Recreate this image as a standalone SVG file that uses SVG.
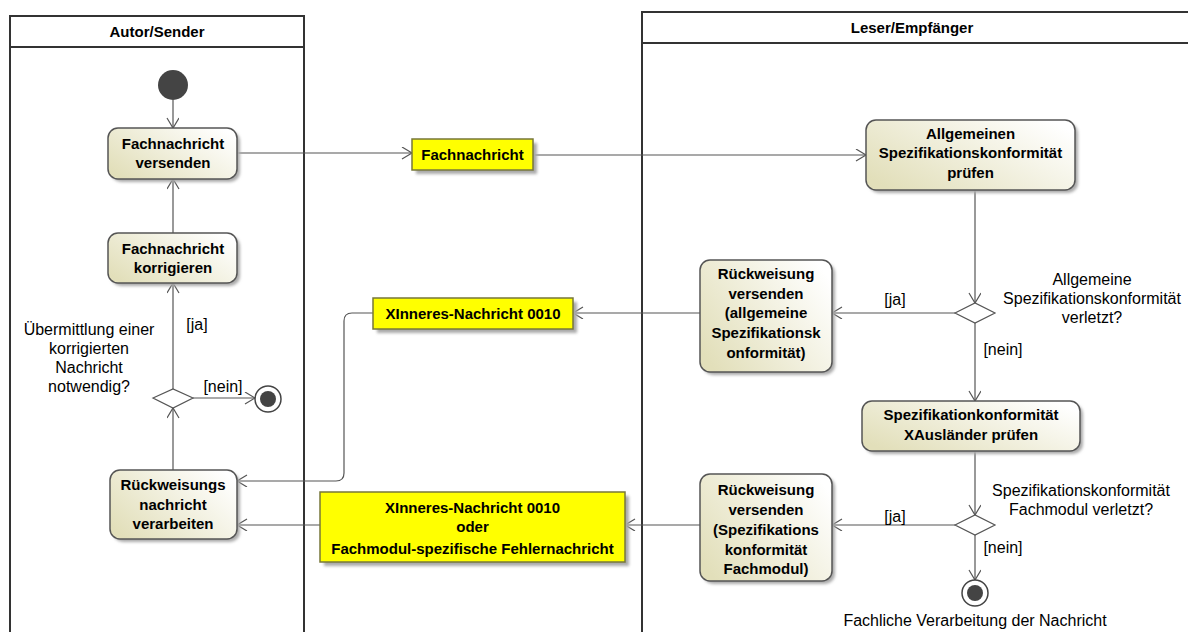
<svg xmlns="http://www.w3.org/2000/svg" width="1188" height="632" viewBox="0 0 1188 632">
<defs>
<linearGradient id="g" x1="0" y1="0.8" x2="1" y2="0.2">
<stop offset="0" stop-color="#E2DFBA"/>
<stop offset="1" stop-color="#FFFFFF"/>
</linearGradient>
<filter id="sh" x="-10%" y="-10%" width="130%" height="130%"><feGaussianBlur stdDeviation="1.5"/></filter>
<marker id="arr" markerUnits="userSpaceOnUse" markerWidth="14" markerHeight="14" refX="11" refY="6" orient="auto">
<path d="M1,0 L11,6 L1,12" fill="none" stroke="#555" stroke-width="1.2"/>
</marker>
</defs>
<style>
.lane{fill:none;stroke:#333;stroke-width:2}
.lt{font-family:"Liberation Sans",Arial,sans-serif;font-size:15px;font-weight:bold;fill:#000;text-anchor:middle}
.act{fill:url(#g);stroke:#555;stroke-width:1.5}
.obj{fill:#FFFF00;stroke:#77773a;stroke-width:1.5}
.shd{fill:#aaa;filter:url(#sh)}
.b{font-family:"Liberation Sans",Arial,sans-serif;font-size:15px;font-weight:bold;fill:#000;text-anchor:middle}
.n{font-family:"Liberation Sans",Arial,sans-serif;font-size:16px;fill:#000;text-anchor:middle}
.c{fill:none;stroke:#555;stroke-width:1.2}
</style>
<rect width="1188" height="632" fill="#fff"/>
<g id="lane-autor">
<rect class="lane" x="10" y="16" width="294" height="630"/>
<line class="lane" x1="10" y1="47" x2="304" y2="47"/>
<text class="lt" x="157" y="37">Autor/Sender</text>
</g>
<g id="lane-leser">
<rect class="lane" x="642" y="12" width="560" height="640"/>
<line class="lane" x1="642" y1="43" x2="1188" y2="43"/>
<text class="lt" x="912" y="33">Leser/Empfänger</text>
</g>
<g id="connectors">
<line class="c" x1="173" y1="100" x2="173" y2="128" marker-end="url(#arr)"/>
<line class="c" x1="237" y1="153" x2="412" y2="153" marker-end="url(#arr)"/>
<line class="c" x1="533" y1="155" x2="866" y2="155" marker-end="url(#arr)"/>
<line class="c" x1="975" y1="190" x2="975" y2="303" marker-end="url(#arr)"/>
<line class="c" x1="955" y1="313" x2="832" y2="313" marker-end="url(#arr)"/>
<line class="c" x1="975" y1="323" x2="975" y2="401" marker-end="url(#arr)"/>
<line class="c" x1="700" y1="313" x2="573" y2="313" marker-end="url(#arr)"/>
<path class="c" d="M373,313 H352 Q344,313 344,321 V473 Q344,481 336,481 H237" marker-end="url(#arr)"/>
<line class="c" x1="975" y1="451" x2="975" y2="515" marker-end="url(#arr)"/>
<line class="c" x1="955" y1="525" x2="832" y2="525" marker-end="url(#arr)"/>
<line class="c" x1="975" y1="535" x2="975" y2="580" marker-end="url(#arr)"/>
<line class="c" x1="700" y1="525" x2="625" y2="525" marker-end="url(#arr)"/>
<line class="c" x1="320" y1="525" x2="237" y2="525" marker-end="url(#arr)"/>
<line class="c" x1="173" y1="470" x2="173" y2="408" marker-end="url(#arr)"/>
<line class="c" x1="173" y1="389" x2="173" y2="283" marker-end="url(#arr)"/>
<line class="c" x1="193" y1="398" x2="255" y2="398" marker-end="url(#arr)"/>
<line class="c" x1="173" y1="233" x2="173" y2="179" marker-end="url(#arr)"/>
<text class="n" x="197" y="330">[ja]</text>
<text class="n" x="223" y="392">[nein]</text>
<text class="n" x="895" y="305">[ja]</text>
<text class="n" x="1003" y="355">[nein]</text>
<text class="n" x="895" y="522">[ja]</text>
<text class="n" x="1003" y="553">[nein]</text>
</g>
<g id="start">
<circle cx="173" cy="85" r="15" fill="#444"/>
</g>
<g id="versenden">
<rect class="shd" x="111" y="131" width="129" height="51" rx="10"/>
<rect class="act" x="108" y="128" width="129" height="51" rx="10"/>
<text class="b" x="173" y="149">Fachnachricht</text>
<text class="b" x="173" y="168">versenden</text>
</g>
<g id="korrigieren">
<rect class="shd" x="111" y="236" width="129" height="50" rx="10"/>
<rect class="act" x="108" y="233" width="129" height="50" rx="10"/>
<text class="b" x="173" y="254">Fachnachricht</text>
<text class="b" x="173" y="273">korrigieren</text>
</g>
<g id="entscheidung-autor">
<polygon points="153,398 173,389 193,398 173,408" fill="#fff" stroke="#555" stroke-width="1.2"/>
<text class="n" x="89" y="335">Übermittlung einer</text>
<text class="n" x="89" y="354">korrigierten</text>
<text class="n" x="89" y="373">Nachricht</text>
<text class="n" x="89" y="392">notwendig?</text>
</g>
<g id="ende-autor">
<circle cx="268" cy="399" r="13" fill="#fff" stroke="#444" stroke-width="1.5"/>
<circle cx="268" cy="399" r="8" fill="#444"/>
</g>
<g id="verarbeiten">
<rect class="shd" x="113" y="473" width="127" height="69" rx="10"/>
<rect class="act" x="110" y="470" width="127" height="69" rx="10"/>
<text class="b" x="173" y="490">Rückweisungs</text>
<text class="b" x="173" y="510">nachricht</text>
<text class="b" x="173" y="529">verarbeiten</text>
</g>
<g id="obj-fachnachricht">
<rect class="shd" x="416" y="143" width="121" height="31"/>
<rect class="obj" x="412" y="139" width="121" height="31"/>
<text class="b" x="472.5" y="160">Fachnachricht</text>
</g>
<g id="pruefen-allg">
<rect class="shd" x="869" y="123" width="209" height="70" rx="10"/>
<rect class="act" x="866" y="120" width="209" height="70" rx="10"/>
<text class="b" x="970.5" y="139">Allgemeinen</text>
<text class="b" x="970.5" y="158">Spezifikationskonformität</text>
<text class="b" x="970.5" y="178">prüfen</text>
</g>
<g id="entscheidung-allg">
<polygon points="955,313 975,303 995,313 975,323" fill="#fff" stroke="#555" stroke-width="1.2"/>
<text class="n" x="1092" y="285">Allgemeine</text>
<text class="n" x="1092" y="304">Spezifikationskonformität</text>
<text class="n" x="1092" y="323">verletzt?</text>
</g>
<g id="rueckweisung-allg">
<rect class="shd" x="703" y="263" width="132" height="112" rx="10"/>
<rect class="act" x="700" y="260" width="132" height="112" rx="10"/>
<text class="b" x="766" y="279">Rückweisung</text>
<text class="b" x="766" y="299">versenden</text>
<text class="b" x="766" y="318">(allgemeine</text>
<text class="b" x="766" y="338">Spezifikationsk</text>
<text class="b" x="766" y="358">onformität)</text>
</g>
<g id="obj-xinneres">
<rect class="shd" x="377" y="302" width="200" height="31"/>
<rect class="obj" x="373" y="298" width="200" height="31"/>
<text class="b" x="473" y="319">XInneres-Nachricht 0010</text>
</g>
<g id="pruefen-xauslaender">
<rect class="shd" x="865" y="404" width="218" height="50" rx="10"/>
<rect class="act" x="862" y="401" width="218" height="50" rx="10"/>
<text class="b" x="971" y="420">Spezifikationkonformität</text>
<text class="b" x="971" y="440">XAusländer prüfen</text>
</g>
<g id="entscheidung-fachmodul">
<polygon points="955,525 975,515 995,525 975,535" fill="#fff" stroke="#555" stroke-width="1.2"/>
<text class="n" x="1081" y="496">Spezifikationskonformität</text>
<text class="n" x="1081" y="515">Fachmodul verletzt?</text>
</g>
<g id="rueckweisung-fachmodul">
<rect class="shd" x="703" y="477" width="132" height="107" rx="10"/>
<rect class="act" x="700" y="474" width="132" height="107" rx="10"/>
<text class="b" x="766" y="495">Rückweisung</text>
<text class="b" x="766" y="515">versenden</text>
<text class="b" x="766" y="535">(Spezifikations</text>
<text class="b" x="766" y="555">konformität</text>
<text class="b" x="766" y="574">Fachmodul)</text>
</g>
<g id="obj-fehlernachricht">
<rect class="shd" x="324" y="496" width="305" height="70"/>
<rect class="obj" x="320" y="492" width="305" height="70"/>
<text class="b" x="472.5" y="513">XInneres-Nachricht 0010</text>
<text class="b" x="472.5" y="532">oder</text>
<text class="b" x="472.5" y="554">Fachmodul-spezifische Fehlernachricht</text>
</g>
<g id="ende-leser">
<circle cx="975" cy="593" r="13" fill="#fff" stroke="#444" stroke-width="1.5"/>
<circle cx="975" cy="593" r="8" fill="#444"/>
<text class="n" x="975" y="626">Fachliche Verarbeitung der Nachricht</text>
</g>
</svg>
